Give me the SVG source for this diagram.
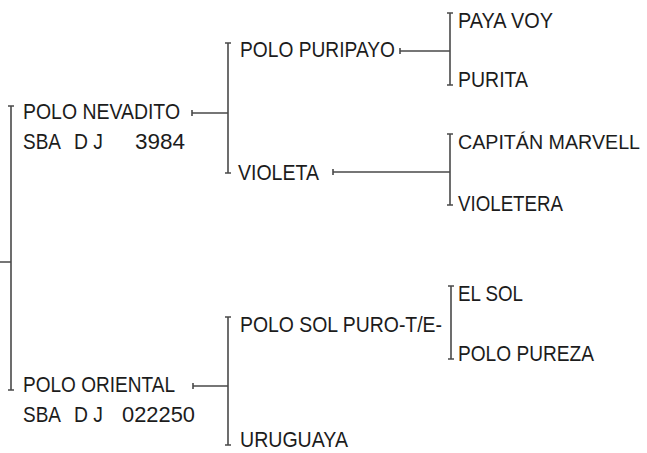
<svg xmlns="http://www.w3.org/2000/svg" width="647" height="453" viewBox="0 0 647 453">
<style>
.t{font-family:"Liberation Sans",Arial,sans-serif;font-size:22.5px;fill:#1c1c1c}
.c{stroke:#4a4a4a;stroke-width:1.6;fill:none}
</style>
<rect width="647" height="453" fill="#fff"/>
<g id="connectors" class="c">
<path d="M11 106V390M8 106H14M8 390H14M0 262H11"/>
<path d="M192 110V116M192 113H228"/>
<path d="M228 43V173M225 43H231M225 173H231"/>
<path d="M400 48V54M400 51H450"/>
<path d="M450 13V85M447 13H453M447 85H453"/>
<path d="M333 169V175M333 172H450"/>
<path d="M450 134V205M447 134H453M447 205H453"/>
<path d="M193 383V389M193 386H228"/>
<path d="M228 317V445M225 317H231M225 445H231"/>
<path d="M451 286V359M448 286H454M448 359H454"/>
</g>
<g id="polo-nevadito">
<text class="t" x="23" y="119" textLength="157" lengthAdjust="spacingAndGlyphs">POLO NEVADITO</text>
<text class="t" y="149"><tspan x="23" textLength="38" lengthAdjust="spacingAndGlyphs">SBA</tspan><tspan x="74" textLength="29" lengthAdjust="spacingAndGlyphs">D J</tspan><tspan x="135" textLength="50" lengthAdjust="spacingAndGlyphs">3984</tspan></text>
</g>
<g id="polo-oriental">
<text class="t" x="23" y="392" textLength="152" lengthAdjust="spacingAndGlyphs">POLO ORIENTAL</text>
<text class="t" y="422"><tspan x="23" textLength="38" lengthAdjust="spacingAndGlyphs">SBA</tspan><tspan x="74" textLength="29" lengthAdjust="spacingAndGlyphs">D J</tspan><tspan x="122" textLength="73" lengthAdjust="spacingAndGlyphs">022250</tspan></text>
</g>
<g id="polo-puripayo"><text class="t" x="240" y="57" textLength="155" lengthAdjust="spacingAndGlyphs">POLO PURIPAYO</text></g>
<g id="violeta"><text class="t" x="238" y="180" textLength="81" lengthAdjust="spacingAndGlyphs">VIOLETA</text></g>
<g id="polo-sol-puro"><text class="t" x="240" y="332" textLength="202" lengthAdjust="spacingAndGlyphs">POLO SOL PURO-T/E-</text></g>
<g id="uruguaya"><text class="t" x="240" y="447" textLength="108" lengthAdjust="spacingAndGlyphs">URUGUAYA</text></g>
<g id="paya-voy"><text class="t" x="458" y="28" textLength="95" lengthAdjust="spacingAndGlyphs">PAYA VOY</text></g>
<g id="purita"><text class="t" x="458" y="87" textLength="70" lengthAdjust="spacingAndGlyphs">PURITA</text></g>
<g id="capitan-marvell"><text class="t" x="458" y="149" style="font-size:20px" textLength="182" lengthAdjust="spacingAndGlyphs">CAPITÁN MARVELL</text></g>
<g id="violetera"><text class="t" x="458" y="211" textLength="105" lengthAdjust="spacingAndGlyphs">VIOLETERA</text></g>
<g id="el-sol"><text class="t" x="458" y="301" textLength="65" lengthAdjust="spacingAndGlyphs">EL SOL</text></g>
<g id="polo-pureza"><text class="t" x="458" y="361" textLength="136" lengthAdjust="spacingAndGlyphs">POLO PUREZA</text></g>
</svg>
